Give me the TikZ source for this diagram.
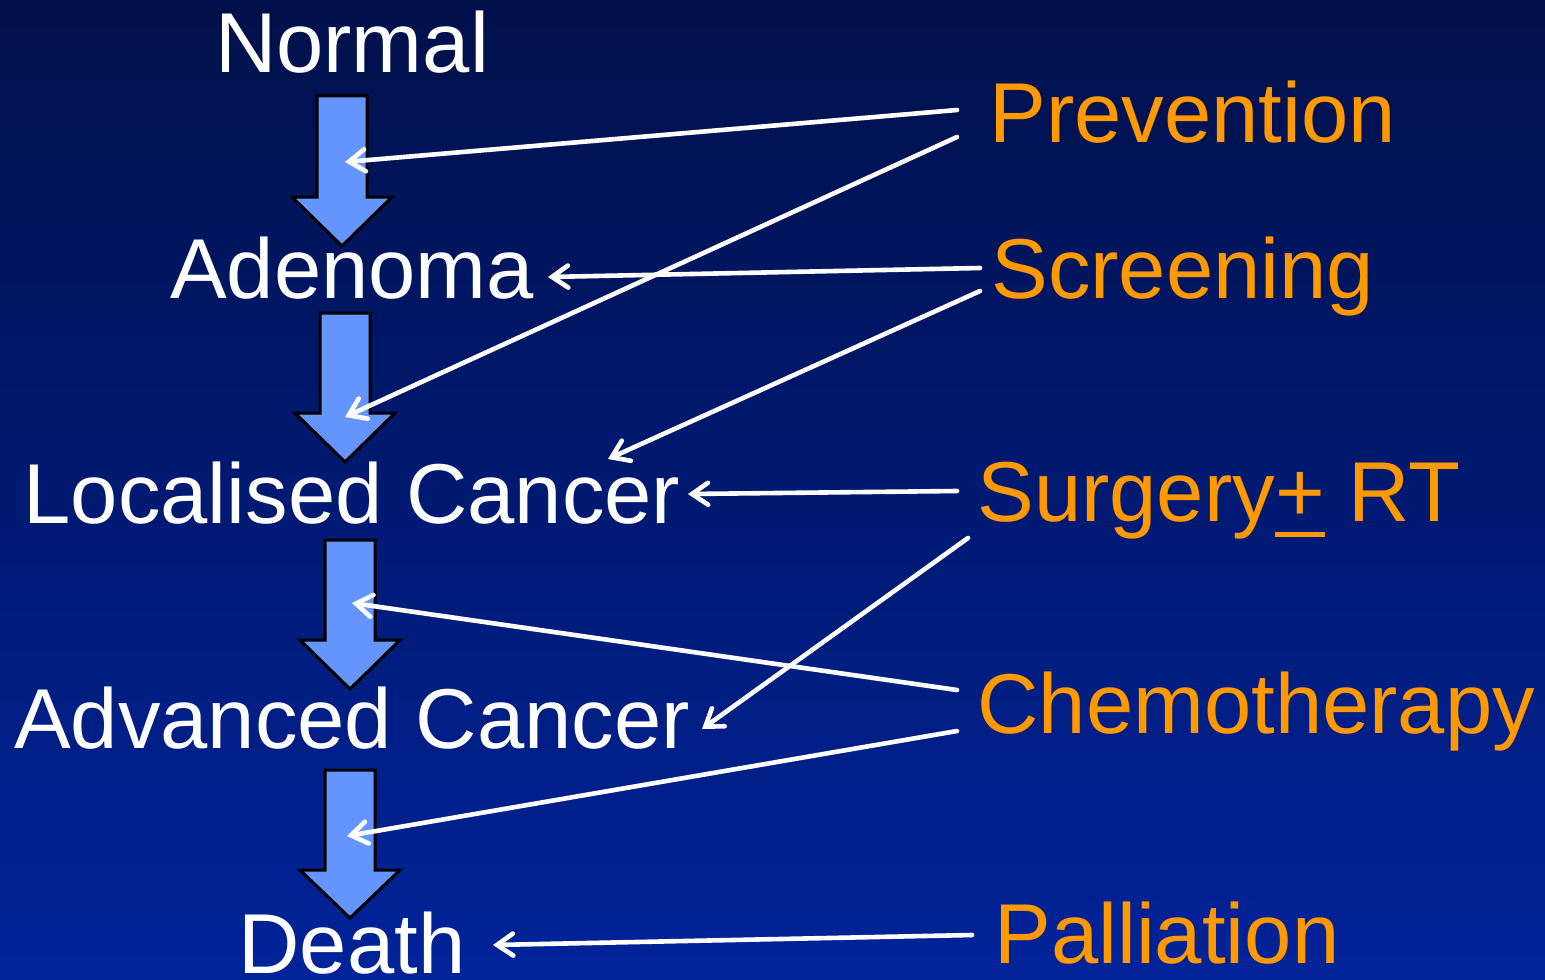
\documentclass[tikz,border=0pt]{standalone}
\usepackage{fontspec}
\setmainfont{Liberation Sans}
\usetikzlibrary{arrows.meta}
\definecolor{bgtop}{HTML}{00104A}
\definecolor{bgbot}{HTML}{002399}
\definecolor{arrblue}{HTML}{6495FF}
\definecolor{treatorange}{HTML}{FF9900}
\tikzset{
	stage/.style={text=white,inner sep=0pt,anchor=base,font=\fontsize{42.5}{50}\selectfont},
	treat/.style={text=treatorange,inner sep=0pt,anchor=base west,font=\fontsize{42.5}{50}\selectfont},
	ptr/.style={white,line width=2.3pt,line cap=round,-{Straight Barb[length=8pt,width=11pt,line cap=round]}},
	barrow/.style={fill=arrblue,draw=black,line width=1.5pt,line join=miter}
}
% centre x, top, head base, tip
\newcommand{\downblock}[4]{%
	\draw[barrow] (#1-25,#2) -- (#1+25,#2) -- (#1+25,#3) -- (#1+50,#3) -- (#1,#4) -- (#1-50,#3) -- (#1-25,#3) -- cycle;}

\begin{document}
\begin{tikzpicture}[x=0.5pt,y=-0.5pt]
						\useasboundingbox (0,0) rectangle (1545,979);
						\shade[top color=bgtop,bottom color=bgbot] (0,0) rectangle (1545,979);

						% stages
						\node [stage] (normal) at (352,73) {Normal};
						\node [stage] (aden) at (352,298) {Adenoma};
						\node [stage] (local) at (352,523) {Localised Cancer};
						\node [stage] (adv) at (352,748) {Advanced Cancer};
						\node [stage] (death) at (352,973) {Death};

						\downblock{342}{96}{197}{246}
						\downblock{345}{313}{413}{462}
						\downblock{350}{540}{640}{689}
						\downblock{350}{770}{870}{918}

						% treatments
						\node [treat] (prev) at (989,142) {Prevention};
						\node [treat] (screen) at (991,298) {Screening};
						\node [treat] (surg) at (977,521) {Surgery\makebox[0pt][l]{\rule[-0.19em]{0.584em}{0.06em}}+ RT};
						\node [treat] (chemo) at (977,733) {Chemotherapy};
						\node [treat] (pall) at (994,963) {Palliation};

						\coordinate (prevA) at (957,110);
						\coordinate (prevB) at (957,137);
						\coordinate (screenA) at (980,268);
						\coordinate (screenB) at (980,291);
						\coordinate (surgA) at (957,491);
						\coordinate (surgB) at (968,538);
						\coordinate (chemoA) at (957,690);
						\coordinate (chemoB) at (957,731);
						\coordinate (pallA) at (972,935);

						\coordinate (step1) at (345,162);
						\coordinate (step2) at (345,417);
						\coordinate (step3) at (352,603);
						\coordinate (step4) at (347,836);
						\coordinate (adenR) at (548,277);
						\coordinate (localT) at (608,459);
						\coordinate (localR) at (688,494);
						\coordinate (advR) at (702,729);
						\coordinate (deathR) at (493,945);

						\draw [ptr] (prevA) -- (step1);
						\draw [ptr] (prevB) -- (step2);
						\draw [ptr] (screenA) -- (adenR);
						\draw [ptr] (screenB) -- (localT);
						\draw [ptr] (surgA) -- (localR);
						\draw [ptr] (surgB) -- (advR);
						\draw [ptr] (chemoA) -- (step3);
						\draw [ptr] (chemoB) -- (step4);
						\draw [ptr] (pallA) -- (deathR);
					\end{tikzpicture}
\end{document}
